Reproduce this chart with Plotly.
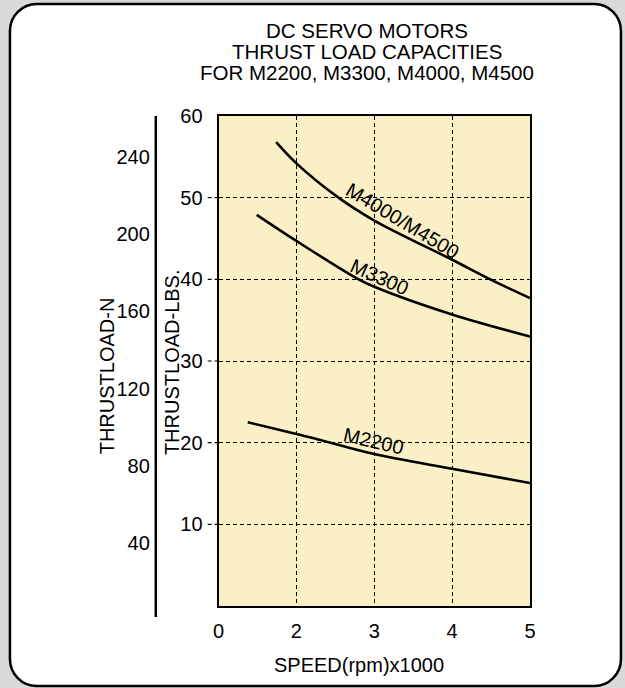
import numpy as np
import plotly.graph_objects as go

# ---- data (speed in x1000 rpm, thrust in lbs) ----
speed_m4000 = [1.48, 2.0, 2.54, 3.0, 4.0, 4.51, 5.0]
lbs_m4000 = [56.8, 54.2, 50.0, 47.2, 42.4, 39.9, 37.7]

speed_m3300 = [0.98, 2.0, 2.78, 3.0, 4.0, 5.0]
lbs_m3300 = [47.9, 44.7, 40.1, 39.1, 35.7, 33.0]

speed_m2200 = [0.75, 2.0, 2.28, 3.0, 4.0, 5.0]
lbs_m2200 = [22.5, 21.05, 20.4, 18.6, 16.8, 15.05]

x_tick_labels = ["0", "2", "3", "4", "5"]
x_tick_speeds = [0, 2, 3, 4, 5]
lbs_ticks = [10, 20, 30, 40, 50, 60]
newton_ticks = [40, 80, 120, 160, 200, 240]

# The speed axis is drawn with evenly spaced ticks 0,2,3,4,5
tick_pos = list(range(len(x_tick_speeds)))


def to_axis(s):
    return np.interp(s, x_tick_speeds, tick_pos)


W, H = 625, 688
ML, MR, MT, MB = 0, 95, 116, 82
PW, PH = W - ML - MR, H - MT - MB


def X(px):
    return (px - ML) / PW


def Y(py):
    return (H - MB - py) / PH


FONT = "Liberation Sans, Arial, Helvetica, sans-serif"
FS = 20

fig = go.Figure()
for s, v in [(speed_m4000, lbs_m4000), (speed_m3300, lbs_m3300), (speed_m2200, lbs_m2200)]:
    fig.add_trace(go.Scatter(x=to_axis(s), y=v, mode="lines",
                             line=dict(color="black", width=2.6, shape="spline", smoothing=1.0),
                             showlegend=False, hoverinfo="skip"))
# carrier for the Newton axis
fig.add_trace(go.Scatter(x=[None], y=[None], yaxis="y2", showlegend=False, hoverinfo="skip"))

shapes = []
# rounded white panel
l, t, r, b, rad = 4, 4, 622, 686, 27
k = 0.5523 * rad
path = (f"M {X(l+rad)} {Y(t)} L {X(r-rad)} {Y(t)} "
        f"C {X(r-rad+k)} {Y(t)} {X(r)} {Y(t+rad-k)} {X(r)} {Y(t+rad)} "
        f"L {X(r)} {Y(b-rad)} "
        f"C {X(r)} {Y(b-rad+k)} {X(r-rad+k)} {Y(b)} {X(r-rad)} {Y(b)} "
        f"L {X(l+rad)} {Y(b)} "
        f"C {X(l+rad-k)} {Y(b)} {X(l)} {Y(b-rad+k)} {X(l)} {Y(b-rad)} "
        f"L {X(l)} {Y(t+rad)} "
        f"C {X(l)} {Y(t+rad-k)} {X(l+rad-k)} {Y(t)} {X(l+rad)} {Y(t)} Z")
shapes.append(dict(type="path", path=path, xref="paper", yref="paper", layer="below",
                   fillcolor="white", line=dict(color="black", width=2.5)))
# yellow plot area
shapes.append(dict(type="rect", xref="x domain", yref="y domain", x0=0, x1=1, y0=0, y1=1,
                   layer="below", fillcolor="#FAEFC5", line=dict(width=0)))
# dashed y ticks outside plot
for v in lbs_ticks[:-1]:
    shapes.append(dict(type="line", xref="paper", yref="y", x0=X(204), x1=X(215), y0=v, y1=v,
                       line=dict(color="black", width=1.2, dash="4px,3px")))
# Newton axis line
shapes.append(dict(type="line", xref="paper", yref="paper", x0=X(151.5), x1=X(151.5),
                   y0=Y(116), y1=Y(617), line=dict(color="black", width=2.5)))


def txt(text, x, y, size=FS, angle=0, xref="paper", yref="paper"):
    return dict(text=text, x=x, y=y, xref=xref, yref=yref, textangle=angle,
                showarrow=False, xanchor="center", yanchor="middle",
                font=dict(family=FONT, size=size, color="black"))


ann = []
title_lines = ["DC SERVO MOTORS", "THRUST LOAD CAPACITIES", "FOR M2200, M3300, M4000, M4500"]
for i, line in enumerate(title_lines):
    ann.append(txt(line, X(365), Y(31 + 20.5 * i), size=20.5))
ann.append(txt("THRUSTLOAD-N", X(102.5), Y(376), angle=-90))
ann.append(txt("THRUSTLOAD-LBS.", X(168), Y(362), angle=-90))
ann.append(txt("SPEED(rpm)x1000", X(357), Y(665)))

curve_labels = [("M4000/M4500", 3.37, 47.2, 31), ("M3300", 3.07, 40.3, 24), ("M2200", 2.99, 20.2, 13)]
for label, s, v, ang in curve_labels:
    ann.append(txt(label, float(to_axis(s)), v, angle=ang, xref="x", yref="y"))

fig.update_layout(
    width=W, height=H, margin=dict(l=ML, r=MR, t=MT, b=MB),
    paper_bgcolor="#D9D9D9", plot_bgcolor="rgba(0,0,0,0)",
    shapes=shapes, annotations=ann,
    xaxis=dict(domain=[X(215), 1], range=[0, len(tick_pos) - 1], tickvals=tick_pos,
               ticktext=x_tick_labels, showgrid=True, gridcolor="black", gridwidth=1.2,
               griddash="4px,3px", zeroline=False, showline=True, mirror=True,
               linecolor="black", linewidth=2, ticks="outside", ticklen=6,
               tickcolor="rgba(0,0,0,0)", tickfont=dict(family=FONT, size=FS, color="black")),
    yaxis=dict(range=[0, 60], tickvals=lbs_ticks, showgrid=True, gridcolor="black",
               gridwidth=1.2, griddash="4px,3px", zeroline=False, showline=True, mirror=True,
               linecolor="black", linewidth=2, ticks="outside", ticklen=10,
               tickcolor="rgba(0,0,0,0)", tickfont=dict(family=FONT, size=FS, color="black")),
    yaxis2=dict(overlaying="y", anchor="free", position=X(151.5), side="left",
                range=[7.5, 261], tickvals=newton_ticks, showgrid=False, zeroline=False,
                showline=False, ticks="outside", ticklen=2, tickcolor="rgba(0,0,0,0)",
                tickfont=dict(family=FONT, size=FS, color="black")),
)

fig.write_html("out.html", config={"displayModeBar": False},
               post_script="document.body.style.margin='0';document.body.style.overflow='hidden';")
